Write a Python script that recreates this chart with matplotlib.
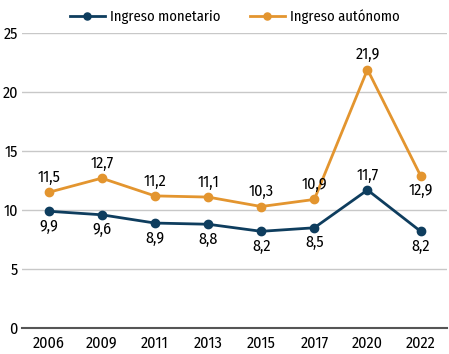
import matplotlib as mpl
import matplotlib.pyplot as plt

mpl.rcParams['font.family'] = ['Fira Sans Condensed', 'DejaVu Sans']

years = ['2006', '2009', '2011', '2013', '2015', '2017', '2020', '2022']
monetario = [9.9, 9.6, 8.9, 8.8, 8.2, 8.5, 11.7, 8.2]
autonomo = [11.5, 12.7, 11.2, 11.1, 10.3, 10.9, 21.9, 12.9]

c_mon = '#0e3d5e'
c_aut = '#e3952f'

fig = plt.figure(figsize=(4.49, 3.54), dpi=100)
ax = fig.add_axes((0.049, 0.073, 0.947, 0.834))
x = range(len(years))

ax.plot(x, monetario, color=c_mon, lw=2, marker='o', ms=6, label='Ingreso monetario')
ax.plot(x, autonomo, color=c_aut, lw=2, marker='o', ms=6, label='Ingreso autónomo')

fs = 11.5
for i, (m, a) in enumerate(zip(monetario, autonomo)):
    lm = f'{m:.1f}'.replace('.', ',')
    la = f'{a:.1f}'.replace('.', ',')
    if i == 6:
        ax.annotate(lm, (i, m), xytext=(0, 5), textcoords='offset points', ha='center', va='bottom', fontsize=fs)
    else:
        ax.annotate(lm, (i, m), xytext=(0, -5), textcoords='offset points', ha='center', va='top', fontsize=fs)
    if i == 7:
        ax.annotate(la, (i, a), xytext=(0, -5), textcoords='offset points', ha='center', va='top', fontsize=fs)
    else:
        ax.annotate(la, (i, a), xytext=(0, 5), textcoords='offset points', ha='center', va='bottom', fontsize=fs)

ax.set_xlim(-0.5, 7.5)
ax.set_ylim(0, 25)
ax.set_yticks([0, 5, 10, 15, 20, 25])
ax.set_xticks(list(x))
ax.set_xticklabels(years)
ax.tick_params(axis='y', length=0, labelsize=fs, pad=3)
ax.tick_params(axis='x', length=0, labelsize=fs, pad=5)
ax.grid(axis='y', color='#c8c8c8', lw=1)
ax.set_axisbelow(True)
for s in ['top', 'right', 'left']:
    ax.spines[s].set_visible(False)
ax.spines['bottom'].set_color('#555555')
ax.spines['bottom'].set_linewidth(1.5)

ax.legend(loc='lower center', bbox_to_anchor=(0.5, 1.0), ncol=2, frameon=False,
          fontsize=10.5, handlelength=2.4, columnspacing=2.0, borderaxespad=0.2,
          handletextpad=0.35, markerscale=0.85)

plt.savefig('out.png', dpi=100)
